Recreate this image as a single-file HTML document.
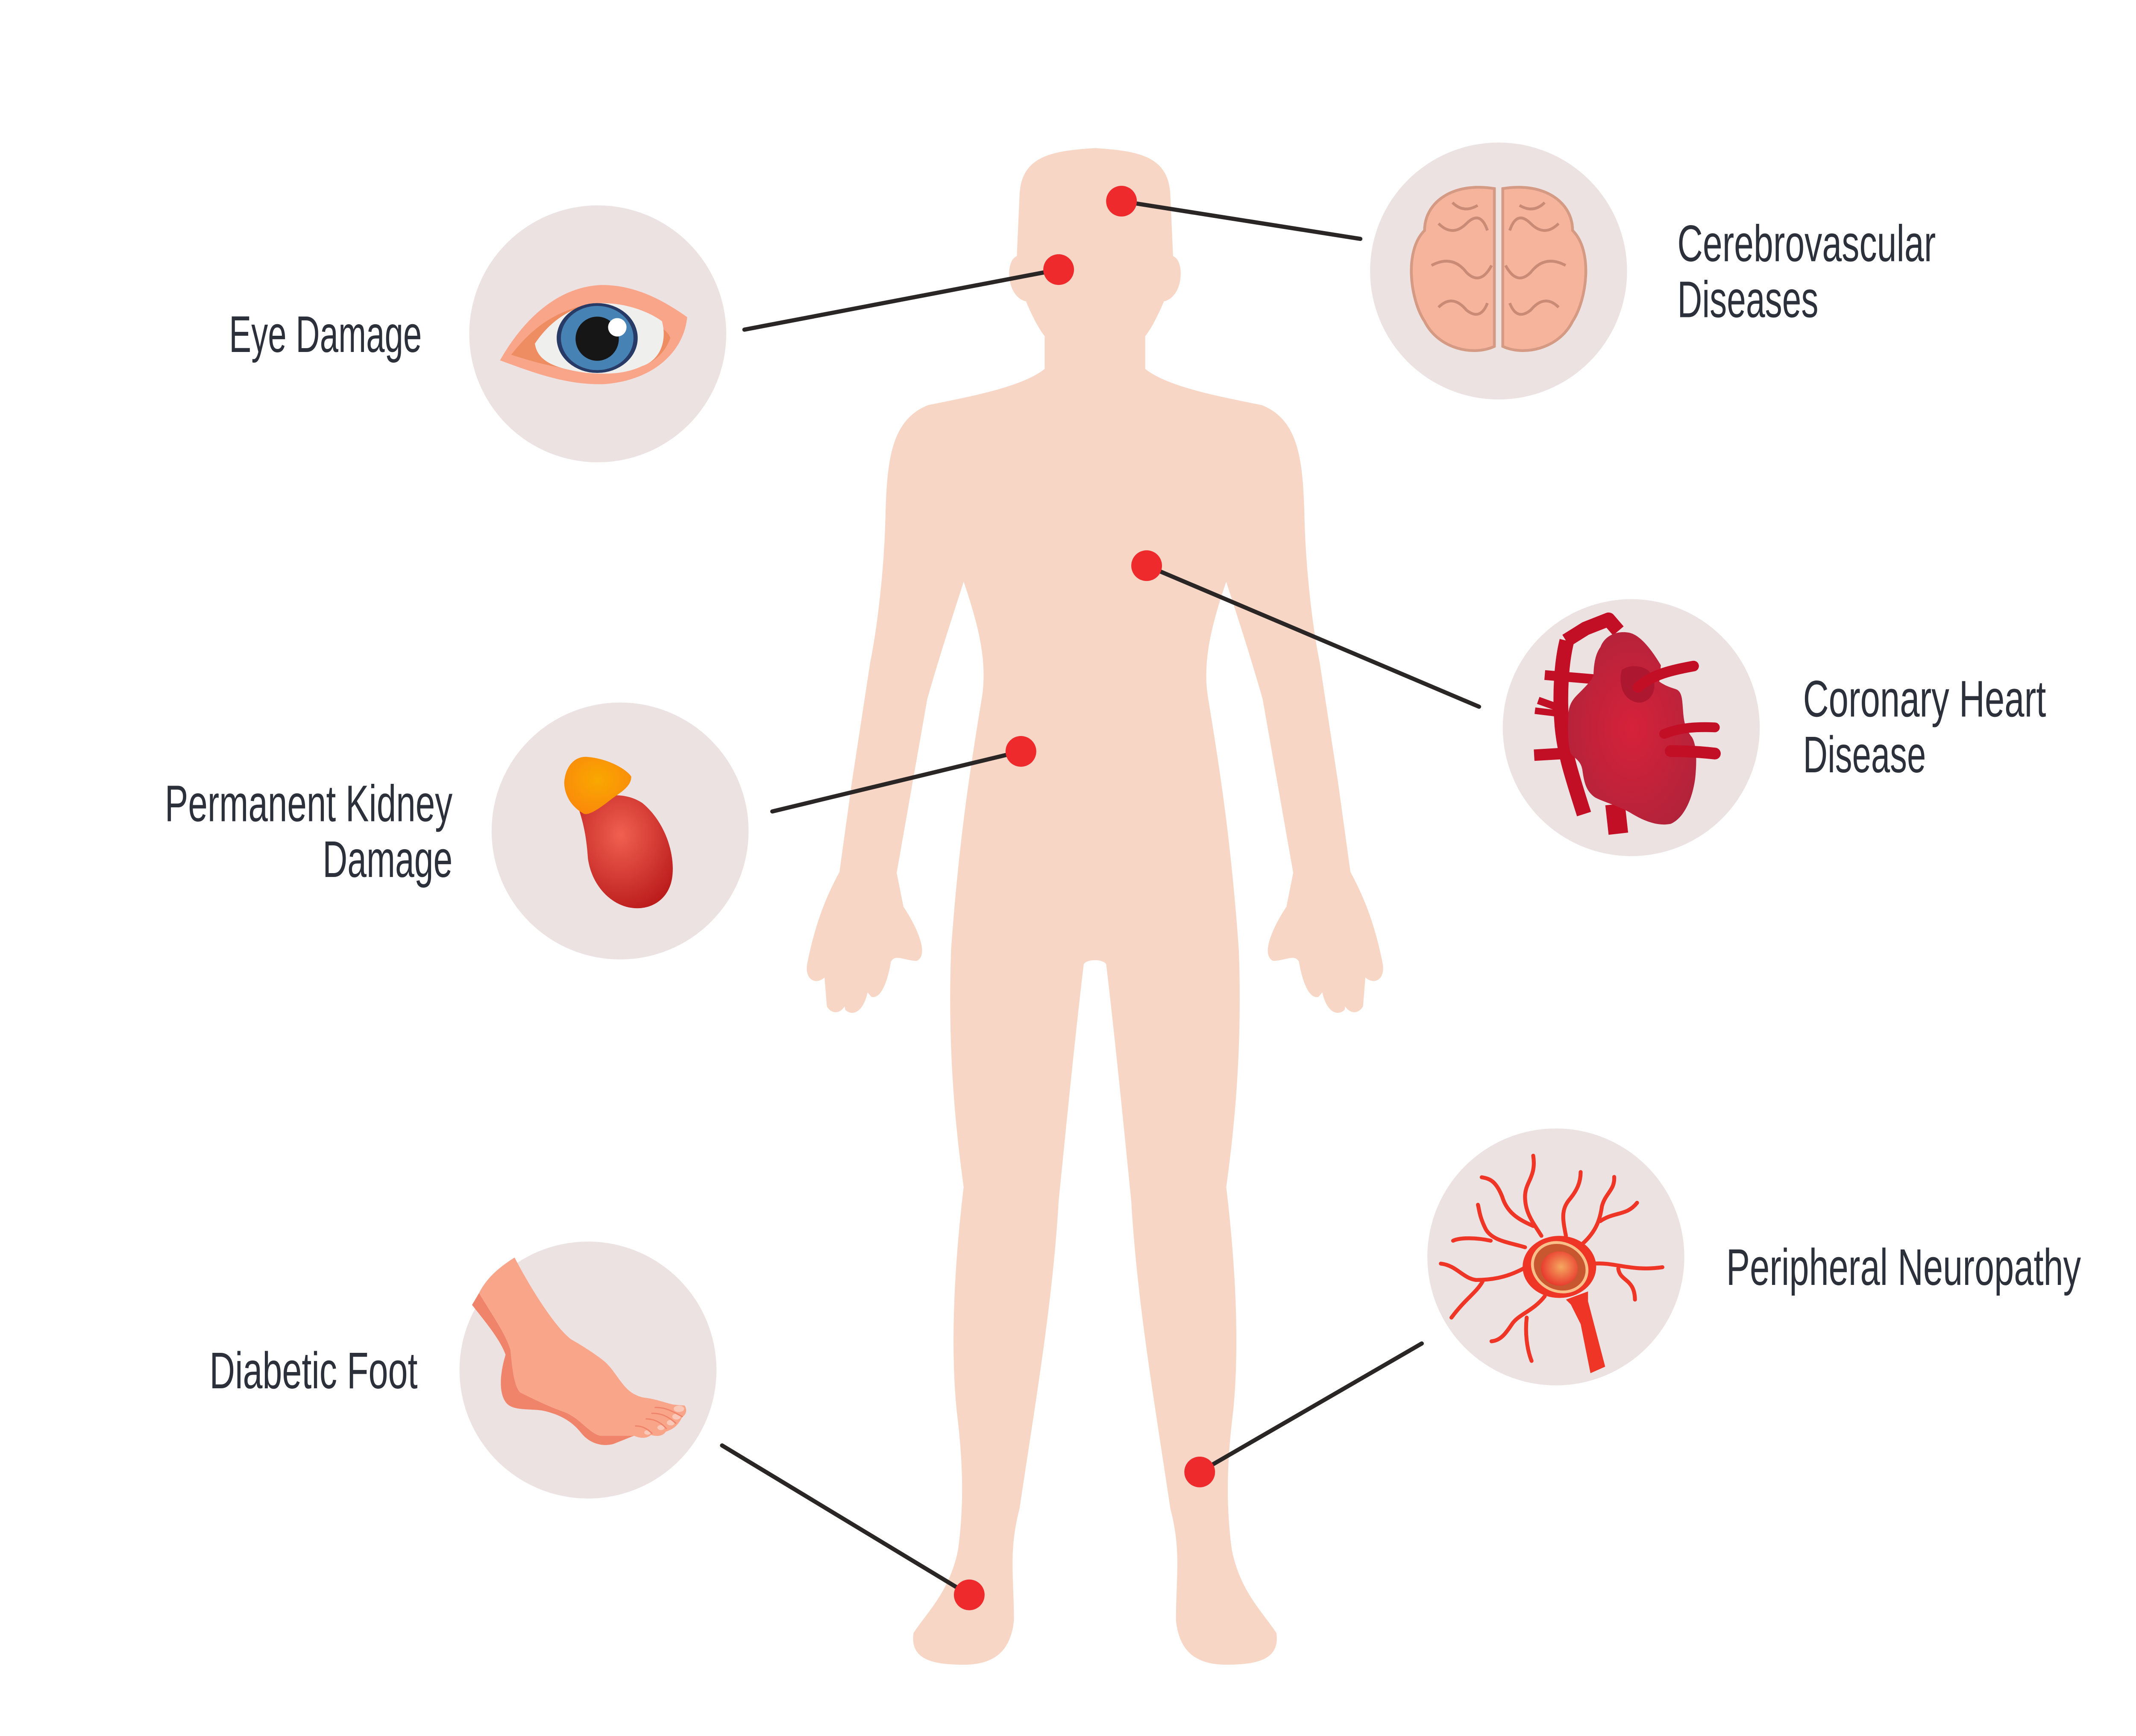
<!DOCTYPE html>
<html><head><meta charset="utf-8"><style>
html,body{margin:0;padding:0;background:#fff;}
svg{display:block;}
text{font-family:"Liberation Sans Narrow","Liberation Sans",sans-serif;font-size:37px;fill:#2b303a;}
</style></head><body>
<svg width="5100" height="4064" viewBox="0 0 1560 1243" xmlns="http://www.w3.org/2000/svg">
<defs>
<radialGradient id="nc" cx="0.55" cy="0.45" r="0.6"><stop offset="0" stop-color="#f5a860"/><stop offset="1" stop-color="#e8322a"/></radialGradient>
<radialGradient id="kg" cx="0.45" cy="0.35" r="0.7"><stop offset="0" stop-color="#f06050"/><stop offset="1" stop-color="#bb1c1c"/></radialGradient>
<radialGradient id="og" cx="0.5" cy="0.4" r="0.6"><stop offset="0" stop-color="#f8a800"/><stop offset="1" stop-color="#fb8a0a"/></radialGradient>
<radialGradient id="hg" cx="0.5" cy="0.5" r="0.6"><stop offset="0" stop-color="#d6223a"/><stop offset="1" stop-color="#b0233a"/></radialGradient>
</defs>
<rect width="1560" height="1243" fill="#fff"/>
<!-- body -->
<path fill="#f7d6c6" stroke="#f7d6c6" stroke-width="4" stroke-linejoin="round" d="
M784,108 C750,110 733,115 732,140 L730,185 C722,185 722,212 736,214 C742,228 746,235 750,240 L750,265
C735,278 700,285 665,292 C640,302 637,330 636,370 C635,410 630,450 625,475 L612,560 C608,590 605,610 603,625
C592,645 585,665 580,690 C578,700 585,705 592,695 L594,720 C598,726 605,722 606,710 L607,722 C612,726 618,720 620,706 L625,712 C630,712 634,700 636,688 C640,680 648,686 656,686 C662,682 655,665 645,650 L640,625
C648,580 655,540 662,500 C672,465 682,435 690,410 C700,440 710,470 705,500 C695,560 688,610 683,680
C680,760 688,820 692,850 C686,900 682,960 687,1010 C692,1050 692,1080 688,1110 C682,1140 666,1155 656,1170 C654,1185 665,1190 690,1190 C712,1190 722,1180 724,1160 C724,1130 720,1110 728,1080 C740,1000 752,930 756,860 C762,800 768,740 774,690 C776,684 792,684 794,690
C800,740 806,800 812,860 C816,930 828,1000 840,1080 C848,1110 844,1130 844,1160 C846,1180 856,1190 878,1190 C903,1190 914,1185 912,1170 C902,1155 886,1140 880,1110 C876,1080 876,1050 881,1010 C886,960 882,900 876,850 C880,820 888,760 885,680 C880,610 873,560 863,500 C858,470 868,440 878,410 C886,435 896,465 906,500 C913,540 920,580 928,625 L923,650 C913,665 906,682 912,686 C920,686 928,680 932,688 C934,700 938,712 943,712 L948,706 C950,720 956,726 961,722 L962,710 C963,722 970,726 974,720 L976,695 C983,705 990,700 988,690 C983,665 976,645 965,625 C963,610 960,590 956,560 L943,475 C938,450 933,410 932,370 C931,330 928,302 903,292 C868,285 833,278 818,265 L818,240 C822,235 826,228 832,214 C846,212 846,185 838,185 L836,140 C835,115 818,110 784,108 Z"/>
<!-- circles -->
<g fill="#ede2e2">
<circle cx="428" cy="239" r="92"/><circle cx="1073" cy="194" r="92"/><circle cx="1168" cy="521" r="92"/>
<circle cx="444" cy="595" r="92"/><circle cx="1114" cy="900" r="92"/><circle cx="421" cy="981" r="92"/>
</g>
<!-- lines -->
<g stroke="#2a2626" stroke-width="3" stroke-linecap="round">
<line x1="533" y1="236" x2="758" y2="193"/><line x1="803" y1="144" x2="974" y2="171"/>
<line x1="821" y1="405" x2="1059" y2="506"/><line x1="553" y1="581" x2="731" y2="538"/>
<line x1="517" y1="1035" x2="694" y2="1142"/><line x1="859" y1="1054" x2="1018" y2="962"/>
</g>
<g fill="#ee2a2d">
<circle cx="758" cy="193" r="11"/><circle cx="803" cy="144" r="11"/><circle cx="821" cy="405" r="11"/>
<circle cx="731" cy="538" r="11"/><circle cx="694" cy="1142" r="11"/><circle cx="859" cy="1054" r="11"/>
</g>
<!-- eye -->
<path d="M358,258 C375,228 400,205 431,204 C455,204 475,215 492,227 C490,250 470,272 433,275 C405,276 380,266 358,258Z" fill="#f9a58a"/>
<path d="M366,254 C380,236 395,224 420,218 L460,228 C470,232 478,236 480,242 C474,258 460,266 435,266 C405,266 385,260 366,254Z" fill="#ef8d62"/>
<path d="M383,246 C395,228 412,218 431,217 C450,217 466,224 474,230 C478,245 472,258 460,262 C447,268 435,268 420,267 C400,264 385,260 383,246Z" fill="#efefed"/>
<ellipse cx="427.6" cy="242" rx="29" ry="25" fill="#283a66"/>
<ellipse cx="427.6" cy="242" rx="26" ry="23" fill="#4682b4"/>
<ellipse cx="427.6" cy="242.5" rx="15.5" ry="15.8" fill="#161616"/>
<circle cx="442" cy="234.3" r="6.6" fill="#fff"/>
<!-- brain -->
<g fill="#f6b49c" stroke="#d49a84" stroke-width="2">
<path d="M1070,135 C1040,130 1020,145 1020,165 C1005,180 1010,215 1020,230 C1030,250 1055,255 1070,248Z"/>
<path d="M1076,135 C1106,130 1126,145 1126,165 C1141,180 1136,215 1126,230 C1116,250 1091,255 1076,248Z"/>
</g>
<g fill="none" stroke="#c98b76" stroke-width="2">
<path d="M1030,160 q10,10 20,0 q10,-10 15,5 M1025,190 q15,-8 25,5 q10,10 18,-5 M1030,220 q10,-10 20,2 q10,8 15,-5 M1040,145 q8,8 18,2"/>
<path d="M1116,160 q-10,10 -20,0 q-10,-10 -15,5 M1121,190 q-15,-8 -25,5 q-10,10 -18,-5 M1116,220 q-10,-10 -20,2 q-10,8 -15,-5 M1106,145 q-8,8 -18,2"/>
</g>
<!-- heart -->
<g transform="translate(1076.8,428.3) scale(0.1171)">
<g stroke="#c20f26" fill="none" stroke-linejoin="round">
<path d="M385,260 C350,400 340,600 355,780 C370,950 420,1100 490,1320" stroke-width="90"/>
<path d="M380,260 L500,185 L640,130 L700,200" stroke-width="85"/>
<path d="M250,470 L550,495" stroke-width="60"/>
<path d="M210,625 L330,668" stroke-width="45"/>
<path d="M190,688 L330,705" stroke-width="40"/>
<path d="M185,960 L390,948" stroke-width="70"/>
<path d="M680,1260 L700,1440" stroke-width="120"/>
</g>
<path d="M590,300 C620,220 700,200 760,210 C830,220 900,310 960,410 L950,510 C1000,545 1040,550 1060,560 C1090,580 1090,620 1095,680 C1100,760 1110,800 1150,850 C1180,900 1180,1000 1170,1100 C1150,1250 1090,1350 1020,1380 C920,1400 820,1340 770,1310 C700,1270 620,1250 560,1220 C500,1180 490,1120 480,1050 C470,990 430,980 410,950 C390,900 390,780 395,700 C400,650 420,620 450,590 C500,540 540,500 548,470 C550,400 560,340 590,300Z" fill="url(#hg)"/>
<path d="M720,440 C760,405 840,410 880,440 C930,480 930,560 900,600 C870,640 820,650 780,625 C730,600 700,530 720,440Z" fill="#ad1830"/>
<g stroke="#c20f26" fill="none" stroke-linecap="round">
<path d="M820,545 C900,470 1020,440 1160,415" stroke-width="65"/>
<path d="M980,830 C1080,790 1180,785 1290,790" stroke-width="60"/>
<path d="M1020,935 C1120,935 1200,940 1290,950" stroke-width="72"/>
</g>
</g>
<!-- kidney -->
<path d="M414,578 C425,570 445,565 460,575 C478,590 484,615 481,630 C478,645 465,652 452,650 C438,648 424,635 421,615 C420,600 418,590 414,578Z" fill="url(#kg)"/>
<path d="M404,560 C405,548 412,541 421,542 C434,543 448,550 452,556 C452,563 445,567 438,572 C428,580 420,585 417,582 C410,578 404,570 404,560Z" fill="url(#og)"/>
<!-- neuron -->
<g transform="translate(1021.7,807.6) scale(0.1171)">
<g stroke="#ee3526" fill="none" stroke-width="24" stroke-linecap="round">
<path d="M700,660 C650,580 600,520 600,420 C600,330 670,300 650,170"/>
<path d="M650,600 C560,560 490,520 460,420 C420,320 380,310 335,302"/>
<path d="M600,730 C500,700 400,690 360,620 C320,540 320,500 312,470"/>
<path d="M390,690 C300,670 200,670 160,690"/>
<path d="M590,860 C480,920 380,930 300,930 C220,920 180,840 85,830"/>
<path d="M340,940 C300,1010 240,1040 150,1160"/>
<path d="M720,1030 C650,1120 560,1140 520,1200 C480,1260 450,1300 395,1305"/>
<path d="M610,1160 C600,1250 610,1350 640,1425"/>
<path d="M850,660 C830,560 820,500 870,440 C920,380 940,330 940,270"/>
<path d="M950,710 C1040,630 1060,550 1070,480 C1090,400 1150,380 1145,300"/>
<path d="M1060,570 C1150,510 1220,540 1285,458"/>
<path d="M1020,830 C1150,820 1250,880 1440,852"/>
<path d="M1170,860 C1180,940 1270,920 1272,1050"/>
</g>
<path d="M850,1050 L985,1000 L985,1060 L1090,1460 L1000,1500 L940,1200 L880,1080Z" fill="#ee3526"/>
<ellipse cx="810" cy="850" rx="225" ry="190" fill="#ee3526"/>
<ellipse cx="812" cy="852" rx="180" ry="155" fill="#fbbf8a" transform="rotate(25 812 852)"/>
<ellipse cx="812" cy="852" rx="162" ry="138" fill="#c8562e" transform="rotate(25 812 852)"/>
<ellipse cx="810" cy="860" rx="112" ry="105" fill="url(#nc)"/>
</g>
<!-- foot -->
<g transform="translate(329.2,889.3) scale(0.1171)">
<path d="M75,385 L118,312 C200,450 280,560 310,660 C320,760 330,880 370,920 C450,960 530,1000 640,1040 C740,1080 790,1170 860,1185 L1065,1185 L940,1235 C870,1255 790,1230 740,1165 C680,1090 600,1050 500,1030 C420,1020 330,1030 290,990 C240,940 240,820 280,690 C250,600 150,480 75,385Z" fill="#ef846a"/>
<path d="M118,312 C150,250 200,180 335,95 C400,220 560,500 680,595 C760,640 850,700 890,735 C950,790 990,880 1050,920 C1080,940 1110,950 1130,952 C1200,960 1260,985 1310,995 L1375,1000 C1395,1030 1380,1060 1360,1070 C1340,1110 1320,1140 1260,1160 C1240,1190 1200,1190 1170,1180 C1140,1205 1100,1200 1065,1185 L860,1185 C790,1170 740,1080 640,1040 C530,1000 450,960 370,920 C330,880 320,760 310,660 C280,560 200,450 118,312Z" fill="#f8a58a"/>
<g fill="#f9c8b8"><ellipse cx="1340" cy="1020" rx="32" ry="20"/><ellipse cx="1325" cy="1068" rx="26" ry="18"/><ellipse cx="1290" cy="1105" rx="24" ry="17"/><ellipse cx="1230" cy="1135" rx="22" ry="15"/><ellipse cx="1148" cy="1165" rx="20" ry="14"/></g>
<g stroke="#ef846a" stroke-width="8" fill="none" stroke-linecap="round">
<path d="M1195,1012 C1260,1010 1310,1040 1360,1068"/><path d="M1175,1048 C1240,1045 1290,1080 1320,1108"/>
<path d="M1140,1082 C1200,1082 1240,1115 1262,1140"/><path d="M1075,1125 C1120,1125 1150,1145 1175,1170"/>
</g>
</g>
<!-- labels -->
<text x="164" y="252" textLength="138" lengthAdjust="spacingAndGlyphs">Eye Damage</text>
<text x="1201" y="187" textLength="185" lengthAdjust="spacingAndGlyphs">Cerebrovascular</text>
<text x="1201" y="227" textLength="101" lengthAdjust="spacingAndGlyphs">Diseases</text>
<text x="1291" y="513" textLength="174" lengthAdjust="spacingAndGlyphs">Coronary Heart</text>
<text x="1291" y="553" textLength="88" lengthAdjust="spacingAndGlyphs">Disease</text>
<text x="118" y="588" textLength="206" lengthAdjust="spacingAndGlyphs">Permanent Kidney</text>
<text x="231" y="628" textLength="93" lengthAdjust="spacingAndGlyphs">Damage</text>
<text x="150" y="994" textLength="149" lengthAdjust="spacingAndGlyphs">Diabetic Foot</text>
<text x="1236" y="920" textLength="254" lengthAdjust="spacingAndGlyphs">Peripheral Neuropathy</text>
</svg>
</body></html>
